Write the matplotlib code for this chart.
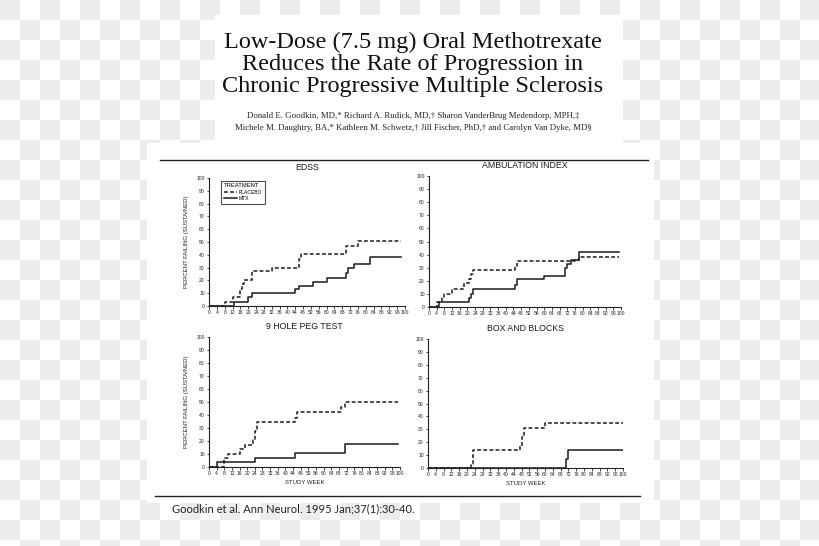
import numpy as np
import matplotlib
matplotlib.use("Agg")
import matplotlib.pyplot as plt
from matplotlib.patches import Rectangle

W, H = 820, 546

# data (study week, percent failing)
edss_pl_wk = [0, 8, 12, 16, 17, 18, 22, 32, 46, 47, 70, 76, 98]
edss_pl = [0, 3, 7, 13, 17, 20, 27, 30, 37, 41, 47, 51, 51]
edss_mtx_wk = [0, 13, 20, 22, 44, 46, 53, 60, 70, 71, 74, 82, 98]
edss_mtx = [0, 3, 7, 10, 13, 16, 19, 22, 26, 30, 33, 38, 38]

amb_pl_wk = [0, 4, 7, 8, 12, 18, 21, 22, 23, 45, 46, 76, 78, 99]
amb_pl = [0, 4, 7, 10, 14, 18, 21, 25, 28, 31, 35, 36, 38, 38]
amb_mtx_wk = [0, 5, 21, 22, 23, 45, 46, 60, 71, 72, 74, 78, 99]
amb_mtx = [0, 4, 7, 10, 14, 17, 21, 24, 30, 33, 36, 42, 42]

peg_pl_wk = [0, 8, 10, 16, 19, 23, 24, 25, 45, 46, 69, 71, 99]
peg_pl = [0, 7, 10, 14, 17, 21, 28, 35, 38, 42, 46, 50, 50]
peg_mtx_wk = [0, 4, 24, 45, 71, 99]
peg_mtx = [0, 3.5, 7, 10.5, 18, 18]

box_pl_wk = [0, 22, 23, 47, 48, 49, 60, 100]
box_pl = [0, 3, 14, 17, 24, 31, 34.5, 34.5]
box_mtx_wk = [0, 71, 72, 100]
box_mtx = [0, 7, 14, 14]

panel_titles = ["EDSS", "AMBULATION INDEX", "9 HOLE PEG TEST", "BOX AND BLOCKS"]
week_ticks = list(range(0, 101, 4))
pct_ticks = list(range(0, 101, 10))


def frac(x0, y0, x1, y1):
    # pixel box (top-left origin) -> figure fraction rect
    return [x0 / W, 1 - y1 / H, (x1 - x0) / W, (y1 - y0) / H]


fig = plt.figure(figsize=(8.2, 5.46), dpi=100)

# checkerboard "transparent" background
bg = fig.add_axes([0, 0, 1, 1])
ny, nx = H // 20 + 1, W // 20 + 1
chk = (np.add.outer(np.arange(ny), np.arange(nx)) % 2 == 0)
bg.imshow(np.where(chk, 0.925, 1.0), cmap="gray", vmin=0, vmax=1,
          extent=(0, nx * 20, ny * 20, 0), interpolation="nearest")
bg.set_xlim(0, W)
bg.set_ylim(H, 0)
bg.axis("off")
bg.add_patch(Rectangle((215, 15), 408, 128, color="white", lw=0))
bg.add_patch(Rectangle((147, 143), 507, 360, color="white", lw=0))
bg.plot([160, 648], [160, 160], color="#222222", lw=1.0)
bg.plot([155, 640], [496, 496], color="#222222", lw=1.0)

serif = "Liberation Serif"
for yy, line in zip([42, 64, 86], ["Low-Dose (7.5 mg) Oral Methotrexate",
                                   "Reduces the Rate of Progression in",
                                   "Chronic Progressive Multiple Sclerosis"]):
    bg.text(413, yy, line, family=serif, fontsize=17.5, ha="center", va="center", color="#111111")
bg.text(413, 116, "Donald E. Goodkin, MD,* Richard A. Rudick, MD,\u2020 Sharon VanderBrug Medendorp, MPH,\u2021",
        family=serif, fontsize=6.35, ha="center", va="center", color="#222222")
bg.text(413, 128, "Michele M. Daughtry, BA,* Kathleen M. Schwetz,\u2020 Jill Fischer, PhD,\u2020 and Carolyn Van Dyke, MD\u00a7",
        family=serif, fontsize=6.35, ha="center", va="center", color="#222222")
bg.text(172, 509, "Goodkin et al. Ann Neurol. 1995 Jan;37(1):30-40.",
        family="Lato", fontsize=8.0, ha="left", va="center", color="#222222")

boxes = [(209, 178, 405, 306), (429, 176, 621, 307),
         (209, 337, 400, 467), (428, 339, 623, 468)]
series = [(edss_pl_wk, edss_pl, edss_mtx_wk, edss_mtx),
          (amb_pl_wk, amb_pl, amb_mtx_wk, amb_mtx),
          (peg_pl_wk, peg_pl, peg_mtx_wk, peg_mtx),
          (box_pl_wk, box_pl, box_mtx_wk, box_mtx)]

sans = "Liberation Sans"
for i, (box, (pw, pv, mw, mv)) in enumerate(zip(boxes, series)):
    ax = fig.add_axes(frac(*box))
    ax.set_facecolor("none")
    ax.step(pw, pv, where="post", color="#1a1a1a", lw=1.1, ls=(0, (2.5, 1.5)), label="PLACEBO")
    ax.step(mw, mv, where="post", color="#1a1a1a", lw=1.1, label="MTX")
    ax.set_xlim(0, 100)
    ax.set_ylim(0, 100)
    ax.set_xticks(week_ticks)
    ax.set_yticks(pct_ticks)
    ax.tick_params(labelsize=3.6, length=1.8, width=0.6, pad=1.2, colors="#222222")
    for lab in ax.get_xticklabels() + ax.get_yticklabels():
        lab.set_family(sans)
    for s in ["top", "right"]:
        ax.spines[s].set_visible(False)
    for s in ["left", "bottom"]:
        ax.spines[s].set_linewidth(0.8)
        ax.spines[s].set_color("#222222")
    ax.set_title(panel_titles[i], family=sans, fontsize=6.3, pad=6, color="#1a1a1a")
    if i % 2 == 0:
        ax.set_ylabel("PERCENT FAILING (SUSTAINED)", family=sans, fontsize=4.3, labelpad=5, color="#222222")
    if i >= 2:
        ax.set_xlabel("STUDY WEEK", family=sans, fontsize=4.3, labelpad=3, color="#222222")
    if i == 0:
        leg = ax.legend(title="TREATMENT", loc="upper left", bbox_to_anchor=(0.05, 1.0),
                        prop={"family": sans, "size": 3.6}, title_fontproperties={"family": sans, "size": 4.2},
                        frameon=True, fancybox=False, handlelength=2.6, borderpad=0.5,
                        labelspacing=0.3, handletextpad=0.4)
        leg.get_frame().set_edgecolor("#222222")
        leg.get_frame().set_linewidth(0.8)
        leg._legend_box.align = "left"

fig.savefig("out.png", dpi=100)
